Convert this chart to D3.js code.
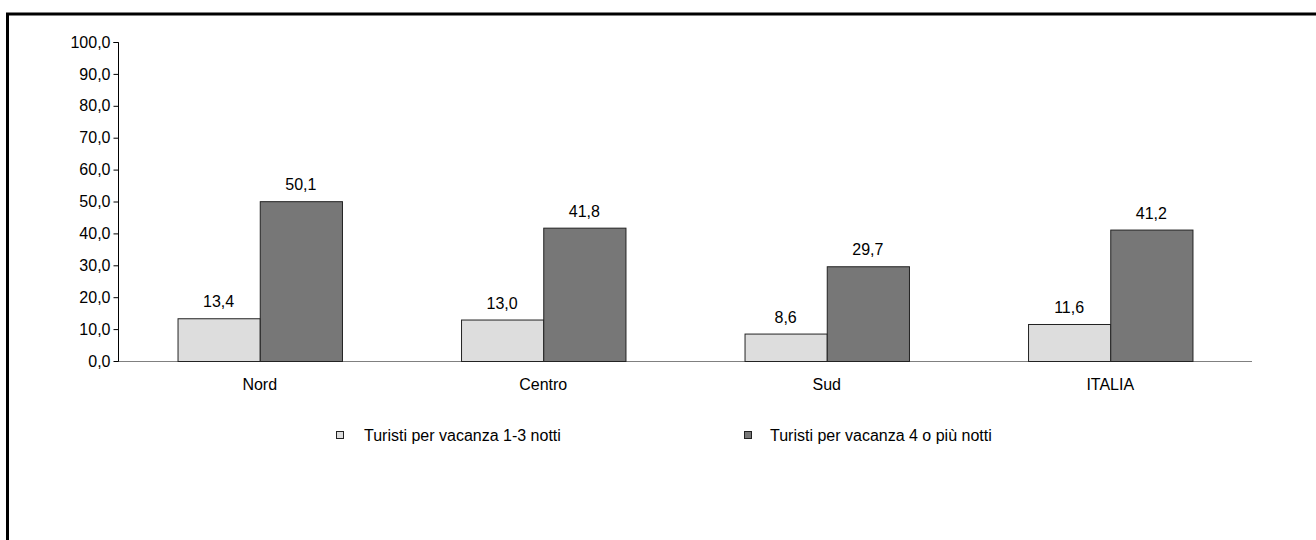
<!DOCTYPE html>
<html>
<head>
<meta charset="utf-8">
<script src="https://cdn.jsdelivr.net/npm/d3@7"></script>
<style>
  html, body { margin: 0; padding: 0; background: #fff; }
  svg { display: block; font-family: "Liberation Sans", Arial, sans-serif; }
</style>
</head>
<body>
<svg id="chart" width="1316" height="540"></svg>
<script>
// Regions and the two tourist series (% values)
const categories = ["Nord", "Centro", "Sud", "ITALIA"];
const seriesNames = ["Turisti per vacanza 1-3 notti", "Turisti per vacanza 4 o più notti"];
const shortStay = [13.4, 13.0, 8.6, 11.6];
const longStay = [50.1, 41.8, 29.7, 41.2];
const yTicks = [0, 10, 20, 30, 40, 50, 60, 70, 80, 90, 100];
const seriesColors = ["#dddddd", "#777777"];

const svg = d3.select("#chart");
const fmt = v => d3.format(".1f")(v).replace(".", ",");
const fontSize = 16;

// Outer frame
svg.append("rect")
  .attr("x", 7.5).attr("y", 14)
  .attr("width", 1400).attr("height", 600)
  .attr("fill", "none").attr("stroke", "#000").attr("stroke-width", 3);

const plotLeft = 118, plotRight = 1252, plotTop = 42, plotBottom = 361;

const x = d3.scaleBand().domain(categories).range([plotLeft, plotRight]).paddingInner(0.42).paddingOuter(0.21);
const xs = d3.scaleBand().domain([0, 1]).range([0, x.bandwidth()]);
const y = d3.scaleLinear().domain([0, 100]).range([plotBottom, plotTop]);

// Category baseline
svg.append("line")
  .attr("x1", plotLeft).attr("x2", plotRight)
  .attr("y1", plotBottom + 0.5).attr("y2", plotBottom + 0.5)
  .attr("stroke", "#808080").attr("stroke-width", 1);

// Y axis
const yAxis = d3.axisLeft(y).tickValues(yTicks).tickFormat(fmt).tickSize(5).tickPadding(3);
const gy = svg.append("g").attr("transform", `translate(${plotLeft + 0.5},0)`).call(yAxis);
gy.select(".domain").attr("stroke", "#000").attr("d", `M-5,${y(100) + 0.5}H0V${plotBottom + 0.5}`);
gy.selectAll(".tick line").attr("stroke", "#000");
gy.selectAll(".tick text").attr("font-size", fontSize).attr("fill", "#000")
  .attr("font-family", "Liberation Sans, Arial, sans-serif");

// Bars
const data = categories.map((c, i) => ({ c, vals: [shortStay[i], longStay[i]] }));
const groups = svg.append("g").selectAll("g").data(data).join("g")
  .attr("transform", d => `translate(${x(d.c)},0)`);

groups.selectAll("rect").data(d => d.vals.map((v, k) => ({ v, k }))).join("rect")
  .attr("x", d => xs(d.k) + 0.5)
  .attr("y", d => y(d.v) + 0.5)
  .attr("width", xs.bandwidth())
  .attr("height", d => plotBottom - y(d.v))
  .attr("fill", d => seriesColors[d.k])
  .attr("stroke", "#222").attr("stroke-width", 1);

groups.selectAll("text").data(d => d.vals.map((v, k) => ({ v, k }))).join("text")
  .attr("x", d => xs(d.k) + xs.bandwidth() / 2)
  .attr("y", d => y(d.v) - 11)
  .attr("text-anchor", "middle")
  .attr("font-size", fontSize).attr("fill", "#000")
  .text(d => fmt(d.v));

// Category labels
svg.append("g").selectAll("text").data(categories).join("text")
  .attr("x", d => x(d) + x.bandwidth() / 2)
  .attr("y", 390)
  .attr("text-anchor", "middle")
  .attr("font-size", fontSize).attr("fill", "#000")
  .text(d => d);

// Legend
const legendX = [336, 744];
const legend = svg.append("g").selectAll("g").data(seriesNames).join("g")
  .attr("transform", (d, i) => `translate(${legendX[i]},431)`);
legend.append("rect")
  .attr("x", 0.5).attr("y", 0.5).attr("width", 7).attr("height", 7)
  .attr("fill", (d, i) => seriesColors[i]).attr("stroke", "#222");
legend.append("text")
  .attr("x", (d, i) => i === 0 ? 28 : 26)
  .attr("y", 10)
  .attr("font-size", fontSize).attr("fill", "#000")
  .text(d => d);
</script>
</body>
</html>
